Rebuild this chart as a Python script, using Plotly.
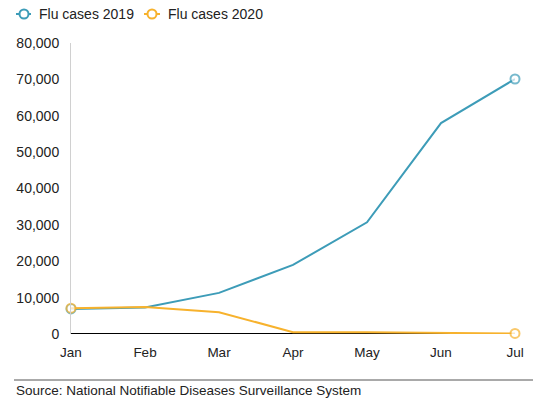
import plotly.graph_objects as go

months = ["Jan", "Feb", "Mar", "Apr", "May", "Jun", "Jul"]
flu_2019 = [6900, 7300, 11300, 19000, 30700, 58000, 70100]
flu_2020 = [7100, 7400, 6000, 500, 450, 350, 150]
series_names = ["Flu cases 2019", "Flu cases 2020"]

blue = "#3d9cb8"
orange = "#f7b22d"
colors = [blue, orange]

W, H = 546, 399
L, R, T, B = 71, 31, 43, 65
PW, PH = W - L - R, H - T - B

def px(x):
    return (x - L) / PW

def py(y):
    return (H - B - y) / PH

fig = go.Figure()
for name, vals, col in zip(series_names, [flu_2019, flu_2020], colors):
    sizes = [9 if i in (0, len(vals) - 1) else 0 for i in range(len(vals))]
    fig.add_trace(go.Scatter(
        x=months, y=vals, name=name, mode="lines+markers",
        line=dict(color=col, width=2),
        marker=dict(symbol="circle", size=sizes, color="white", line=dict(color=col, width=2)),
        cliponaxis=False, showlegend=False,
    ))

fig.update_layout(
    width=W, height=H,
    margin=dict(l=L, r=R, t=T, b=B),
    paper_bgcolor="white", plot_bgcolor="white",
    font=dict(family="Liberation Sans, Arial, sans-serif", size=14, color="#222"),
    xaxis=dict(range=[0, 6], showgrid=False, showline=False, zeroline=False,
               tickfont=dict(size=13.5), ticks="", ticklabelstandoff=8),
    yaxis=dict(range=[0, 80000], dtick=10000, tickformat=",", showgrid=False,
               showline=True, linecolor="#d0d0d0", linewidth=1,
               zeroline=False, ticks="", tickfont=dict(size=14), ticklabelstandoff=8),
)
# zero baseline
fig.add_shape(type="line", xref="paper", yref="y", x0=0, x1=1, y0=0, y1=0,
              line=dict(color="black", width=2), layer="below")

# custom legend
legend_items = [(16, 24, 31, 37), (144, 152, 160, 166)]
ly = 14
r = 4.5
for (x0, cx, x1, tx), name, col in zip(legend_items, series_names, colors):
    fig.add_shape(type="line", xref="paper", yref="paper", x0=px(x0), x1=px(x1), y0=py(ly), y1=py(ly),
                  line=dict(color=col, width=2))
    fig.add_shape(type="circle", xref="paper", yref="paper",
                  x0=px(cx - r), x1=px(cx + r), y0=py(ly + r), y1=py(ly - r),
                  line=dict(color=col, width=2), fillcolor="white")
    fig.add_annotation(text=name, xref="paper", yref="paper", x=px(tx), y=py(ly),
                       xanchor="left", yanchor="middle", showarrow=False,
                       font=dict(size=14, color="#222"))

# separator line above source
fig.add_shape(type="line", xref="paper", yref="paper", x0=px(14), x1=px(533), y0=py(380), y1=py(380),
              line=dict(color="#555", width=1))
fig.add_annotation(text="Source: National Notifiable Diseases Surveillance System",
                   xref="paper", yref="paper", x=px(14), y=py(390), xanchor="left", yanchor="middle",
                   showarrow=False, font=dict(size=13.5, color="#222"))

fig.write_html("out.html")
